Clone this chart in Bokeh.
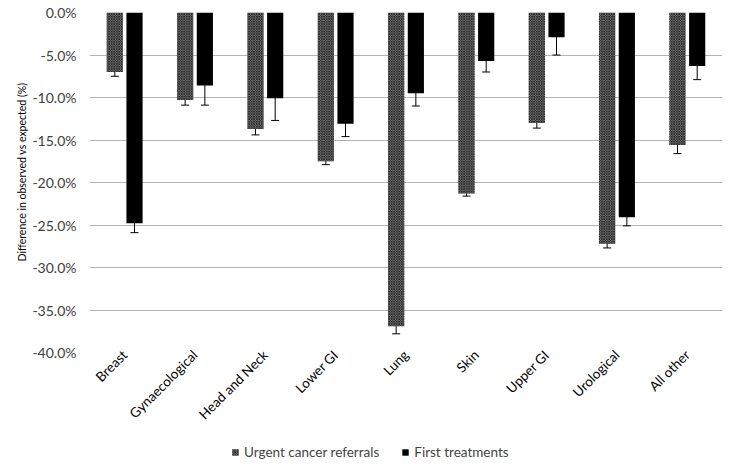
import math
from bokeh.plotting import figure
from bokeh.layouts import column
from bokeh.models import ColumnDataSource, FactorRange, Whisker, TeeHead, Legend, LegendItem, FixedTicker, CustomJSTickFormatter, Title
from bokeh.transform import dodge
from bokeh.embed import file_html
from bokeh.resources import INLINE

categories = ["Breast", "Gynaecological", "Head and Neck", "Lower GI", "Lung",
              "Skin", "Upper GI", "Urological", "All other"]
urgent = [-7.0, -10.3, -13.7, -17.5, -36.9, -21.3, -13.0, -27.2, -15.6]
urgent_lo = [-7.5, -10.9, -14.4, -17.9, -37.8, -21.6, -13.6, -27.7, -16.6]
urgent_hi = [-6.5, -9.7, -13.1, -17.2, -36.1, -21.0, -12.4, -26.8, -14.7]
first = [-24.8, -8.6, -10.1, -13.1, -9.5, -5.7, -2.9, -24.1, -6.3]
first_lo = [-25.9, -10.9, -12.7, -14.6, -11.0, -7.0, -5.0, -25.1, -7.9]
first_hi = [-23.7, -6.2, -7.6, -11.6, -8.0, -4.6, -0.9, -23.1, -4.7]
y_ticks = [0, -5, -10, -15, -20, -25, -30, -35, -40]
series_names = ["Urgent cancer referrals", "First treatments"]
y_title = "Difference in observed vs expected (%)"

src = ColumnDataSource(dict(cat=categories, u=urgent, ulo=urgent_lo, uhi=urgent_hi,
                            f=first, flo=first_lo, fhi=first_hi))

FONT = "Lato"
HATCH = dict(fill_color="#8a8a8a", line_color=None, hatch_pattern="diagonal_cross",
             hatch_scale=2.5, hatch_color="#262626", hatch_weight=1)

p = figure(x_range=FactorRange(*categories), y_range=(-40, 0), width=726, height=430,
           output_backend="svg", toolbar_location=None,
           min_border_left=89, min_border_right=4, min_border_top=12, min_border_bottom=76)
p.outline_line_color = None
p.x_range.range_padding = 0.0

p.vbar(x=dodge("cat", -0.14, range=p.x_range), top=0, bottom="u", width=0.23,
       source=src, **HATCH)
p.vbar(x=dodge("cat", 0.14, range=p.x_range), top=0, bottom="f", width=0.23,
       source=src, fill_color="black", line_color=None)

for off, lo, hi in ((-0.14, "ulo", "uhi"), (0.14, "flo", "fhi")):
    w = Whisker(source=src, base=dodge("cat", off, range=p.x_range), lower=lo, upper=hi,
                line_color="black", line_width=1,
                upper_head=TeeHead(size=8, line_color="black", line_width=1),
                lower_head=TeeHead(size=8, line_color="black", line_width=1))
    p.add_layout(w)

p.yaxis.ticker = FixedTicker(ticks=y_ticks)
p.yaxis.formatter = CustomJSTickFormatter(code="return tick.toFixed(1) + '%';")
p.yaxis.axis_line_color = None
p.yaxis.major_tick_line_color = None
p.yaxis.minor_tick_line_color = None
p.yaxis.major_label_standoff = 7
p.yaxis.major_label_text_font = FONT
p.yaxis.major_label_text_font_size = "14px"
p.yaxis.major_label_text_color = "#404040"

# y-axis title as a side title so it can sit a little above the frame's centre
p.add_layout(Title(text=y_title, align="left", offset=91, text_font=FONT,
                   text_font_size="10.5px", text_font_style="normal",
                   text_color="#000000", standoff=4), "left")

p.xaxis.axis_line_color = None
p.xaxis.major_tick_line_color = None
p.xaxis.minor_tick_line_color = None
p.xaxis.major_tick_out = 0
p.xaxis.major_label_standoff = 0
p.xaxis.major_label_orientation = math.pi / 4
p.xaxis.major_label_text_font = FONT
p.xaxis.major_label_text_font_size = "13.5px"
p.xaxis.major_label_text_color = "#000000"

p.xgrid.grid_line_color = None
p.ygrid.grid_line_color = "#b4b4b4"
p.ygrid.grid_line_width = 1

# legend strip below the chart
lg = figure(width=726, height=35, output_backend="svg", toolbar_location=None,
            x_range=(0, 1), y_range=(0, 1),
            min_border_left=89, min_border_right=4, min_border_top=0, min_border_bottom=0)
lg.outline_line_color = None
lg.axis.visible = False
lg.grid.visible = False
hidden = ColumnDataSource(dict(x=[0.5], top=[float("nan")]))
d_u = lg.vbar(x="x", top="top", width=0.1, source=hidden, **HATCH)
d_f = lg.vbar(x="x", top="top", width=0.1, source=hidden, fill_color="black", line_color=None)
legend = Legend(items=[LegendItem(label=series_names[0], renderers=[d_u]),
                       LegendItem(label=series_names[1], renderers=[d_f])],
                orientation="horizontal", location=(142, 5),
                glyph_width=8, glyph_height=8, label_standoff=5, spacing=22,
                label_text_font=FONT, label_text_font_size="13.5px",
                border_line_color=None, background_fill_alpha=0, margin=0, padding=0)
lg.add_layout(legend, "center")

layout = column(p, lg, spacing=0)
open("out.html", "w").write(file_html(layout, INLINE))
